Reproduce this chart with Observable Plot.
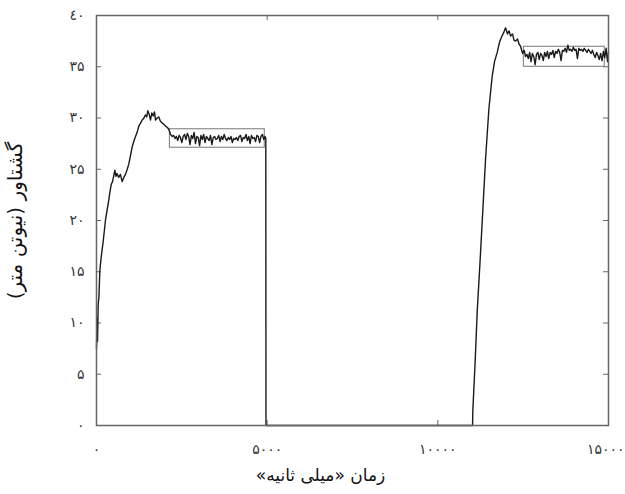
<!DOCTYPE html>
<html><head><meta charset="utf-8">
<script src="https://cdn.jsdelivr.net/npm/d3@7"></script>
<script src="https://cdn.jsdelivr.net/npm/@observablehq/plot@0.6"></script>
<style>body{margin:0;background:#fff}</style>
</head><body><div id="chart"></div>
<script>
const xTicks = [0, 5000, 10000, 15000];
const yTicks = [0, 5, 10, 15, 20, 25, 30, 35, 40];
const xTitle = "\u200Fزمان «میلی ثانیه»\u200F";
const yTitle = "\u200Fگشتاور (نیوتن متر)\u200F";
const digits = "۰۱۲۳٤۵۶۷۸۹";

const rise1Time = [0,15,30,50,70,100,140,190,230,265,300,350,390,430,470,507,540,570,600,650,700,753,800,850,900,946,1000,1046,1100,1143,1190,1239,1290,1339,1390,1436,1470,1503,1540,1582,1620,1661,1700,1729,1780,1825,1870,1925,1970,2022,2070,2118,2170,2218];
const rise1Torque = [7.5,10.5,8.2,11.8,12.5,15.2,16.5,17.8,19.0,20.1,20.8,21.8,22.7,23.5,23.8,24.4,24.9,24.3,24.6,24.2,24.5,23.8,24.2,24.5,25.0,25.5,26.4,27.2,27.8,28.2,28.6,29.2,29.5,29.8,30.0,30.3,30.1,30.7,30.4,29.8,30.5,30.2,30.6,29.8,30.0,30.1,29.7,29.5,29.4,29.2,29.1,28.9,28.4,28.2];

const steady1Time = [2260,2300,2340,2380,2420,2460,2500,2540,2580,2620,2660,2700,2740,2780,2820,2860,2900,2940,2980,3020,3060,3100,3140,3180,3220,3260,3300,3340,3380,3420,3460,3500,3540,3580,3620,3660,3700,3740,3780,3820,3860,3900,3940,3980,4020,4060,4100,4140,4180,4220,4260,4300,4340,4380,4420,4460,4500,4540,4580,4620,4660,4700,4740,4780,4820,4860,4900,4940];
const steady1Torque = [28.3,28.0,28.2,27.8,28.3,28.1,27.6,28.2,28.4,27.9,28.5,28.2,27.4,28.3,28.0,28.6,27.5,28.2,28.1,27.3,28.3,27.9,28.4,27.6,28.2,28.0,27.8,28.3,27.4,28.1,28.2,27.9,28.0,28.3,27.7,28.2,27.9,28.4,28.0,27.8,28.1,27.9,28.2,27.6,28.0,27.9,28.1,27.8,28.2,28.3,27.7,28.1,28.0,28.4,27.8,28.2,27.5,28.3,28.0,28.1,27.7,28.3,28.2,27.6,28.2,28.4,27.9,28.2];

const dropTime = [4960, 4965, 11017];
const dropTorque = [28.0, 0, 0];

const rise2Time = [11026,11090,11155,11237,11318,11398,11494,11544,11594,11661,11740,11808,11866,11925,11984,12042,12086,12130,12189,12230,12277,12335,12380,12423,12482,12530,12570];
const rise2Torque = [1.5,6.0,11.2,16.0,21.0,26.0,30.8,32.5,34.1,35.5,36.4,37.4,37.9,38.3,38.8,38.2,38.5,38.0,38.2,37.6,37.5,37.7,37.2,37.0,36.3,36.6,36.0];

const steady2Time = [12610,12650,12690,12730,12770,12810,12850,12890,12930,12970,13010,13050,13090,13130,13170,13210,13250,13290,13330,13370,13410,13450,13490,13530,13570,13610,13650,13690,13730,13770,13810,13850,13890,13930,13970,14010,14050,14090,14130,14170,14210,14250,14290,14330,14370,14410,14450,14490,14530,14570,14610,14650,14690,14730,14770,14810,14850,14890,14930,14970,15000];
const steady2Torque = [36.2,35.8,36.4,35.5,36.3,36.0,35.2,36.2,36.4,35.7,36.3,36.1,35.6,36.4,36.0,36.5,35.8,36.4,36.2,36.6,35.9,36.5,36.3,36.7,36.4,35.6,36.6,36.5,36.8,36.4,37.1,36.6,36.7,36.5,36.9,36.6,36.7,35.8,36.8,36.6,36.7,36.5,36.8,36.6,36.4,36.7,36.5,36.3,36.6,36.2,35.9,36.4,36.1,35.7,36.3,35.6,36.5,35.9,36.8,35.5,36.4];

const boxStart = [2150, 12520];
const boxEnd = [4930, 14890];
const boxLow = [27.1, 35.0];
const boxHigh = [28.9, 36.95];

const zip = (T, V) => T.map((t, i) => ({t, v: V[i]}));
const series = [
  ...zip(rise1Time, rise1Torque),
  ...zip(steady1Time, steady1Torque),
  ...zip(dropTime, dropTorque),
  ...zip(rise2Time, rise2Torque),
  ...zip(steady2Time, steady2Torque)
];
const boxes = boxStart.map((s, i) => ({x1: s, x2: boxEnd[i], y1: boxLow[i], y2: boxHigh[i]}));

const W = 625, H = 494, mL = 96, mR = 17, mT = 15, mB = 69;
const innerW = W - mL - mR, innerH = H - mT - mB;
const fmt = d => String(d).replace(/\d/g, c => digits[+c]);
const tickColor = "#666";
const lastX = xTicks[xTicks.length - 1];

const chart = Plot.plot({
  width: W, height: H,
  marginLeft: mL, marginRight: mR, marginTop: mT, marginBottom: mB,
  style: {fontFamily: "DejaVu Sans, sans-serif", background: "#fff", color: "#333"},
  x: {domain: [0, 15000]},
  y: {domain: [0, 40]},
  marks: [
    Plot.axisX(xTicks.filter(d => d !== lastX), {tickSize: 0, tickPadding: 19, tickFormat: fmt, fontSize: 14, label: null}),
    Plot.axisX([lastX], {tickSize: 0, tickPadding: 19, tickFormat: fmt, fontSize: 14, label: null, textAnchor: "end", dx: 16}),
    Plot.axisY(yTicks, {tickSize: 0, tickPadding: 12, tickFormat: fmt, fontSize: 14, label: null}),
    Plot.tickX(xTicks, {x: d => d, insetTop: innerH - 5, stroke: tickColor}),
    Plot.tickX(xTicks, {x: d => d, insetBottom: innerH - 5, stroke: tickColor}),
    Plot.tickY(yTicks, {y: d => d, insetRight: innerW - 5, stroke: tickColor}),
    Plot.tickY(yTicks, {y: d => d, insetLeft: innerW - 5, stroke: tickColor}),
    Plot.rect(boxes, {x1: "x1", x2: "x2", y1: "y1", y2: "y2", stroke: "#777", fill: "none", strokeWidth: 1}),
    Plot.line(series, {x: "t", y: "v", stroke: "#1a1a1a", strokeWidth: 1.4}),
    Plot.frame({stroke: "#666", strokeWidth: 1.5}),
    Plot.text([yTitle], {frameAnchor: "left", textAnchor: "middle", dx: -81, rotate: -90, fontSize: 20, fill: "#111"}),
    Plot.text([xTitle], {frameAnchor: "bottom", textAnchor: "middle", dy: 55, dx: -32, fontSize: 17, fill: "#111"})
  ]
});
document.getElementById("chart").appendChild(chart);
</script>
</body></html>
